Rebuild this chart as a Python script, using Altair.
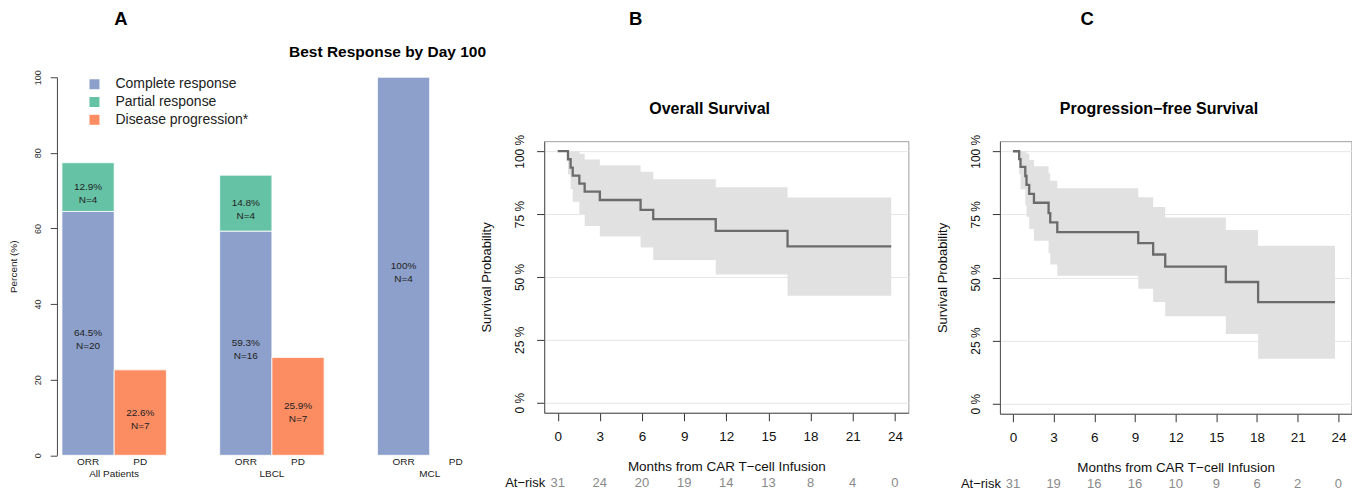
import altair as alt
import pandas as pd

FONT = "Liberation Sans"

# ---------------- Panel A data ----------------
groups = ["All Patients", "LBCL", "MCL"]
resp_levels = ["ORR", "PD"]
types = ["Complete response", "Partial response", "Disease progression*"]
type_colors = ["#8DA0CB", "#66C2A5", "#FC8D62"]

bar_group = ["All Patients", "All Patients", "All Patients", "LBCL", "LBCL", "LBCL", "MCL"]
bar_resp = ["ORR", "ORR", "PD", "ORR", "ORR", "PD", "ORR"]
bar_type = ["Complete response", "Partial response", "Disease progression*",
            "Complete response", "Partial response", "Disease progression*",
            "Complete response"]
bar_pct = [64.5, 12.9, 22.6, 59.3, 14.8, 25.9, 100.0]
bar_pct_label = ["64.5%", "12.9%", "22.6%", "59.3%", "14.8%", "25.9%", "100%"]
bar_n_label = ["N=20", "N=4", "N=7", "N=16", "N=4", "N=7", "N=4"]
bar_stack_order = [0, 1, 0, 0, 1, 0, 0]

lab_group = ["All Patients", "All Patients", "LBCL", "LBCL", "MCL", "MCL"]
lab_resp = ["ORR", "PD", "ORR", "PD", "ORR", "PD"]

# ---------------- Panel B data (Overall survival) ----------------
os_t = [0, 0.73, 0.92, 1.07, 1.54, 1.92, 3.0, 5.9, 6.8, 11.25, 16.36, 23.74]
os_s = [100, 96.8, 93.5, 90.3, 87.1, 83.9, 80.6, 76.7, 73.0, 68.3, 62.2, 62.2]
os_lo = [100, 90.7, 84.9, 79.9, 75.0, 70.3, 66.1, 61.7, 56.7, 51.0, 42.5, 42.5]
os_hi = [100, 100, 100, 100, 99.0, 96.7, 94.4, 91.8, 88.9, 85.7, 81.6, 81.6]
os_risk = [31, 24, 20, 19, 14, 13, 8, 4, 0]

# ---------------- Panel C data (Progression-free survival) ----------------
pfs_t = [0, 0.46, 0.56, 0.91, 1.0, 1.2, 1.55, 2.63, 2.75, 3.27, 9.24, 10.34, 11.23, 15.7, 18.08, 23.75]
pfs_s = [100, 96.9, 93.8, 90.2, 86.7, 83.1, 79.6, 75.5, 71.8, 68.0, 63.6, 59.1, 54.3, 48.2, 40.2, 40.2]
pfs_lo = [100, 90.8, 84.9, 78.5, 74.1, 69.2, 64.5, 59.6, 55.1, 50.7, 45.5, 40.3, 34.6, 27.6, 17.8, 17.8]
pfs_hi = [100, 100, 100, 100, 99.1, 96.5, 94.1, 91.2, 88.3, 85.3, 81.8, 77.9, 73.8, 68.8, 62.6, 62.6]
pfs_risk = [31, 19, 16, 16, 10, 9, 6, 2, 0]

risk_months = [0, 3, 6, 9, 12, 15, 18, 21, 24]

one = pd.DataFrame({"k": [0]})

# ================= Panel A =================
WA, HA = 425.6, 378.6
dfA = pd.DataFrame({
    "group": bar_group, "resp": bar_resp, "type": bar_type, "pct": bar_pct,
    "pct_label": bar_pct_label, "n_label": bar_n_label, "ord": bar_stack_order,
})
dfLab = pd.DataFrame({"group": lab_group, "resp": lab_resp})

xA = alt.X("group:N",
           scale=alt.Scale(domain=groups, paddingInner=0.338, paddingOuter=0.0159, align=1),
           axis=alt.Axis(title=None, domain=False, ticks=False, tickSize=0, labelAngle=0,
                         labelPadding=13.5, labelFontSize=10, labelFont=FONT, labelColor="#222"))
xoffA = alt.XOffset("resp:N", scale=alt.Scale(domain=resp_levels, paddingInner=0, paddingOuter=0))
yA_scale = alt.Scale(domain=[0, 100], nice=False, zero=True)
yA_axis = alt.Axis(values=[0, 20, 40, 60, 80, 100], title="Percent (%)", titleFont=FONT,
                   titleFontSize=10, titleFontWeight="normal", titleColor="#222", titlePadding=14.4,
                   labelAngle=270, labelAlign="center", labelBaseline="bottom", labelFontSize=9,
                   labelFont=FONT, labelColor="#333", labelPadding=7.9, tickSize=6.7,
                   tickColor="#444", domainColor="#444", grid=False)

stackA = alt.Chart(dfA).transform_stack(
    stack="pct", groupby=["group", "resp"], as_=["y0", "y1"],
    sort=[alt.SortField("ord", order="ascending")])

bars = stackA.mark_bar(stroke="#ffffff", strokeWidth=0.8).encode(
    x=xA, xOffset=xoffA,
    y=alt.Y("y0:Q", scale=yA_scale, axis=yA_axis), y2="y1:Q",
    color=alt.Color("type:N", scale=alt.Scale(domain=types, range=type_colors),
                    legend=alt.Legend(title=None, orient="none", legendX=30.6, legendY=0,
                                      symbolType="square", symbolSize=100, symbolStrokeWidth=0,
                                      symbolOpacity=1, labelFontSize=14, labelFont=FONT,
                                      labelColor="#222", labelOffset=14, rowPadding=3.8,
                                      padding=0, labelLimit=300)))

midA = stackA.transform_calculate(mid="(datum.y0 + datum.y1) / 2")
pct_text = midA.mark_text(fontSize=10, font=FONT, color="#222", baseline="middle").encode(
    x=xA, xOffset=xoffA, y=alt.Y("mid:Q", scale=yA_scale, axis=yA_axis), text="pct_label:N")
n_text = midA.mark_text(fontSize=10, font=FONT, color="#222", baseline="middle", dy=13).encode(
    x=xA, xOffset=xoffA, y=alt.Y("mid:Q", scale=yA_scale, axis=yA_axis), text="n_label:N")
resp_text = alt.Chart(dfLab).mark_text(fontSize=10, font=FONT, color="#222", baseline="middle").encode(
    x=xA, xOffset=xoffA, y=alt.value(HA + 6.7), text="resp:N")
letterA = alt.Chart(one).mark_text(text="A", font=FONT, fontSize=18.5, fontWeight="bold",
                                   color="#000", baseline="top").encode(
    x=alt.value(64), y=alt.value(-67.7))
titleA = alt.Chart(one).mark_text(text="Best Response by Day 100", font=FONT, fontSize=15.5,
                                  fontWeight="bold", color="#000", baseline="middle").encode(
    x=alt.value(331.1), y=alt.value(-25.7))

panelA = alt.layer(bars, pct_text, n_text, resp_text, letterA, titleA).properties(width=WA, height=HA)


# ================= Survival panels =================
def surv_panel(t, s, lo, hi, risk, title, letter, W, H, letter_x, title_x):
    df = pd.DataFrame({"t": t, "s": s, "lo": lo, "hi": hi})
    rdf = pd.DataFrame({"month": risk_months, "n": risk})
    xs = alt.Scale(domain=[-0.96, 24.96], nice=False, zero=False)
    ys = alt.Scale(domain=[-4, 104], nice=False, zero=False)
    xaxis = alt.Axis(values=risk_months, title="Months from CAR T\u2212cell Infusion",
                     titleFont=FONT, titleFontSize=13.5, titleFontWeight="normal",
                     titleColor="#111", titlePadding=16.4, labelFont=FONT, labelFontSize=13.5,
                     labelColor="#111", labelPadding=9, labelFlush=False, labelOverlap=False,
                     tickSize=8, tickColor="#333", domainColor="#555", grid=False)
    yaxis = alt.Axis(values=[0, 25, 50, 75, 100], labelExpr="datum.value + ' %'",
                     title="Survival Probability", titleFont=FONT, titleFontSize=13,
                     titleFontWeight="normal", titleColor="#111", titlePadding=20.4,
                     labelAngle=270, labelAlign="center", labelBaseline="bottom",
                     labelFont=FONT, labelFontSize=12, labelColor="#111", labelPadding=9.9,
                     tickSize=7.6, tickColor="#333", domainColor="#555",
                     grid=True, gridColor="#e6e6e6", gridWidth=1)
    band = alt.Chart(df).mark_area(interpolate="step-after", color="#e1e1e1").encode(
        x=alt.X("t:Q", scale=xs, axis=xaxis),
        y=alt.Y("lo:Q", scale=ys, axis=yaxis), y2="hi:Q")
    line = alt.Chart(df).mark_line(interpolate="step-after", color="#6b6b6b", strokeWidth=2.3).encode(
        x=alt.X("t:Q", scale=xs, axis=xaxis),
        y=alt.Y("s:Q", scale=ys, axis=yaxis))
    risk_txt = alt.Chart(rdf).mark_text(font=FONT, fontSize=13, color="#8a8a8a", baseline="middle").encode(
        x=alt.X("month:Q", scale=xs, axis=xaxis), y=alt.value(H + 70.7), text="n:Q")
    risk_lab = alt.Chart(one).mark_text(text="At\u2212risk", font=FONT, fontSize=13, color="#111",
                                        align="right", baseline="middle").encode(
        x=alt.value(1), y=alt.value(H + 70.7))
    ttl = alt.Chart(one).mark_text(text=title, font=FONT, fontSize=16, fontWeight="bold",
                                   color="#000", baseline="middle").encode(
        x=alt.value(title_x), y=alt.value(-32))
    let = alt.Chart(one).mark_text(text=letter, font=FONT, fontSize=18.5, fontWeight="bold",
                                   color="#000", baseline="top").encode(
        x=alt.value(letter_x), y=alt.value(-131.3))
    main = alt.layer(band, line, risk_txt, risk_lab, ttl, let).properties(
        width=W, height=H, view=alt.ViewBackground(stroke="#a0a0a0", strokeWidth=1))
    spacer = alt.Chart(one).mark_point(opacity=0, size=0).properties(width=W, height=63.6)
    return alt.vconcat(spacer, main, spacing=0, bounds="flush")


WB = 364.7
panelB = surv_panel(os_t, os_s, os_lo, os_hi, os_risk, "Overall Survival", "B",
                    WB, 272, 91.7, 165.7)
panelC = surv_panel(pfs_t, pfs_s, pfs_lo, pfs_hi, pfs_risk, "Progression\u2212free Survival", "C",
                    352, 273, 87.3, 159.3)

# nested column widths are not counted by the flush layout, so the gap includes panel B's width
right = alt.hconcat(panelB, panelC, spacing=WB + 91.7, bounds="flush")
chart = alt.hconcat(panelA, right, spacing=62.0, bounds="flush").resolve_scale(
    color="independent"
).properties(
    padding={"left": 0, "top": 0, "right": 0, "bottom": 0}
).configure_view(stroke="transparent")

chart.save("out.html", embed_options={"renderer": "svg", "actions": False})
